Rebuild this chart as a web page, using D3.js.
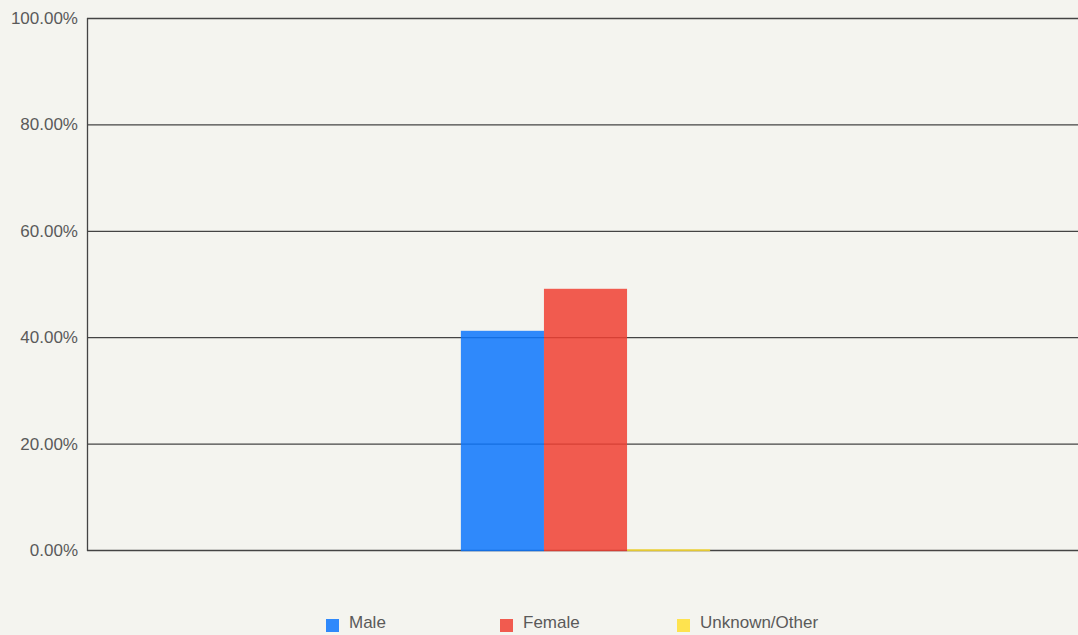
<!DOCTYPE html>
<html>
<head>
<meta charset="utf-8">
<script src="https://cdn.jsdelivr.net/npm/d3@7"></script>
<style>
  html, body { margin: 0; padding: 0; background: #f4f4ef; }
  svg { display: block; }
  text { font-family: "Liberation Sans", Arial, sans-serif; fill: #5a5a5a; }
</style>
</head>
<body>
<svg id="chart" width="1078" height="635"></svg>
<script>
// Share of people by gender (percent)
const categories = ["All"];
const seriesNames = ["Male", "Female", "Unknown/Other"];
const seriesColors = ["#0c75fd", "#f03f33", "#ffdf33"];
const seriesValues = [
  [41.2],   // Male
  [49.1],   // Female
  [0.15]    // Unknown/Other
];
const yTicks = [0, 20, 40, 60, 80, 100];

const svg = d3.select("#chart");
const W = 1078, H = 635;
const margin = { top: 18, left: 87, bottom: 85, rightEdge: 1084 };
const barOpacity = 0.85;

const x0 = d3.scaleBand()
  .domain(categories)
  .range([margin.left, margin.rightEdge])
  .paddingInner(0)
  .paddingOuter(1.5);

const x1 = d3.scaleBand()
  .domain(seriesNames)
  .range([0, x0.bandwidth()])
  .padding(0);

const y = d3.scaleLinear()
  .domain([0, 100])
  .range([H - margin.bottom, margin.top]);

// Horizontal grid lines
svg.append("g")
  .selectAll("line")
  .data(yTicks)
  .join("line")
  .attr("x1", margin.left)
  .attr("x2", W)
  .attr("y1", d => y(d) + 0.5)
  .attr("y2", d => y(d) + 0.5)
  .attr("stroke", "#444")
  .attr("stroke-width", 1.3);

// Left axis line
svg.append("line")
  .attr("x1", margin.left + 0.5).attr("x2", margin.left + 0.5)
  .attr("y1", y(100)).attr("y2", y(0) + 1)
  .attr("stroke", "#444").attr("stroke-width", 1.3);

// Y tick labels
const yAxis = d3.axisLeft(y)
  .tickValues(yTicks)
  .tickSize(0)
  .tickPadding(9)
  .tickFormat(d => d.toFixed(2) + "%");
const yg = svg.append("g")
  .attr("transform", `translate(${margin.left},0)`)
  .call(yAxis);
yg.select(".domain").remove();
yg.selectAll("text")
  .style("font-size", "17px")
  .style("font-family", "'Liberation Sans', Arial, sans-serif")
  .attr("fill", "#5a5a5a");

// Bars (translucent, sitting over the grid and covering the baseline stroke)
const groups = svg.append("g")
  .selectAll("g")
  .data(categories)
  .join("g")
  .attr("transform", d => `translate(${x0(d)},0)`);

groups.selectAll("rect")
  .data((d, ci) => seriesNames.map((name, si) => ({ name, value: seriesValues[si][ci], color: seriesColors[si] })))
  .join("rect")
  .attr("x", d => x1(d.name))
  .attr("width", x1.bandwidth())
  .attr("y", d => y(d.value))
  .attr("height", d => y(0) - y(d.value) + 1.2)
  .attr("fill", d => d.color)
  .attr("fill-opacity", barOpacity);

// Legend
const legendX = [326, 500, 677];
const legend = svg.append("g")
  .selectAll("g")
  .data(seriesNames)
  .join("g")
  .attr("transform", (d, i) => `translate(${legendX[i]},619)`);
legend.append("rect")
  .attr("width", 13).attr("height", 13)
  .attr("fill", (d, i) => seriesColors[i])
  .attr("fill-opacity", barOpacity);
legend.append("text")
  .attr("x", 23)
  .attr("y", 9)
  .style("font-size", "17px")
  .text(d => d);
</script>
</body>
</html>
